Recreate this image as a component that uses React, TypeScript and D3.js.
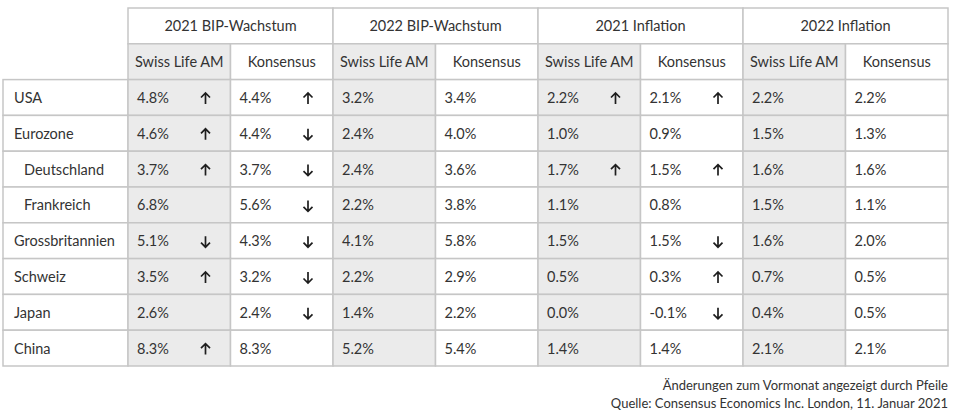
import React from "react";
import { scaleBand } from "d3";

// Zeilen
const countries = ["USA", "Eurozone", "Deutschland", "Frankreich", "Grossbritannien", "Schweiz", "Japan", "China"];
const subRegions = ["Deutschland", "Frankreich"];

// Spaltenköpfe
const groups = ["2021 BIP-Wachstum", "2022 BIP-Wachstum", "2021 Inflation", "2022 Inflation"];
const subHeads = ["Swiss Life AM", "Konsensus"];

// Werte je Spalte (Reihenfolge wie countries)
const bip21Swiss = ["4.8%", "4.6%", "3.7%", "6.8%", "5.1%", "3.5%", "2.6%", "8.3%"];
const bip21Kons = ["4.4%", "4.4%", "3.7%", "5.6%", "4.3%", "3.2%", "2.4%", "8.3%"];
const bip22Swiss = ["3.2%", "2.4%", "2.4%", "2.2%", "4.1%", "2.2%", "1.4%", "5.2%"];
const bip22Kons = ["3.4%", "4.0%", "3.6%", "3.8%", "5.8%", "2.9%", "2.2%", "5.4%"];
const inf21Swiss = ["2.2%", "1.0%", "1.7%", "1.1%", "1.5%", "0.5%", "0.0%", "1.4%"];
const inf21Kons = ["2.1%", "0.9%", "1.5%", "0.8%", "1.5%", "0.3%", "-0.1%", "1.4%"];
const inf22Swiss = ["2.2%", "1.5%", "1.6%", "1.5%", "1.6%", "0.7%", "0.4%", "2.1%"];
const inf22Kons = ["2.2%", "1.3%", "1.6%", "1.1%", "2.0%", "0.5%", "0.5%", "2.1%"];

// Pfeile: 1 = hoch, -1 = runter, 0 = keiner
const bip21SwissArrow = [1, 1, 1, 0, -1, 1, 0, 1];
const bip21KonsArrow = [1, -1, -1, -1, -1, -1, -1, 0];
const inf21SwissArrow = [1, 0, 1, 0, 0, 0, 0, 0];
const inf21KonsArrow = [1, 0, 1, 0, -1, 1, -1, 0];
const noArrow = [0, 0, 0, 0, 0, 0, 0, 0];

const notes = [
  "Änderungen zum Vormonat angezeigt durch Pfeile",
  "Quelle: Consensus Economics Inc. London, 11. Januar 2021",
];

const columns = [
  { values: bip21Swiss, arrows: bip21SwissArrow },
  { values: bip21Kons, arrows: bip21KonsArrow },
  { values: bip22Swiss, arrows: noArrow },
  { values: bip22Kons, arrows: noArrow },
  { values: inf21Swiss, arrows: inf21SwissArrow },
  { values: inf21Kons, arrows: inf21KonsArrow },
  { values: inf22Swiss, arrows: noArrow },
  { values: inf22Kons, arrows: noArrow },
];

const W = 960;
const H = 416;
const left = 3;
const firstColRight = 128;
const right = 948;
const top = 8;
const bottom = 366;

const FONT = "Lato, 'Noto Sans', sans-serif";
const TEXT = "#333";
const BORDER = "#c6c6c6";
const SHADE = "#ebebeb";

function Arrow({ cx, cy, dir }: { cx: number; cy: number; dir: number }) {
  const h = 5.5;
  const tip = cy - dir * h;
  const back = tip + dir * 4.5;
  return (
    <path
      d={`M${cx},${cy + dir * h}V${tip}M${cx - 4.5},${back}L${cx},${tip}L${cx + 4.5},${back}`}
      fill="none"
      stroke="#1e1e1e"
      strokeWidth={1.7}
      strokeLinejoin="miter"
    />
  );
}

export default function App() {
  const rowKeys = ["h1", "h2", ...countries];
  const y = scaleBand<string>().domain(rowKeys).range([top, bottom]);
  const x = scaleBand<number>()
    .domain(columns.map((_, i) => i))
    .range([firstColRight, right]);
  const rh = y.bandwidth();
  const cw = x.bandwidth();

  return (
    <div style={{ position: "absolute", left: 0, top: 0 }}>
      <svg width={W} height={H} style={{ display: "block", fontFamily: FONT }}>
        <rect width={W} height={H} fill="#fff" />

        {/* Gruppenköpfe */}
        {groups.map((g, gi) => {
          const x0 = x(gi * 2)!;
          return (
            <g key={g}>
              <rect x={x0} y={y("h1")} width={cw * 2} height={rh} fill="#fff" stroke={BORDER} strokeWidth={1.5} />
              <text x={x0 + cw} y={y("h1")! + rh / 2 + 5} textAnchor="middle" fontSize={14.5} fill={TEXT}>
                {g}
              </text>
            </g>
          );
        })}

        {/* Unterköpfe */}
        {columns.map((_, ci) => (
          <g key={"sh" + ci}>
            <rect x={x(ci)} y={y("h2")} width={cw} height={rh} fill={ci % 2 === 0 ? SHADE : "#fff"} stroke={BORDER} strokeWidth={1.5} />
            <text x={x(ci)! + cw / 2} y={y("h2")! + rh / 2 + 5} textAnchor="middle" fontSize={14.5} fill={TEXT}>
              {subHeads[ci % 2]}
            </text>
          </g>
        ))}

        {/* Länderzeilen */}
        {countries.map((c, ri) => {
          const y0 = y(c)!;
          const indent = subRegions.includes(c) ? 21 : 11;
          return (
            <g key={c}>
              <rect x={left} y={y0} width={firstColRight - left} height={rh} fill="#fff" stroke={BORDER} strokeWidth={1.5} />
              <text x={left + indent} y={y0 + rh / 2 + 5.5} fontSize={14.5} fill={TEXT}>
                {c}
              </text>
              {columns.map((col, ci) => {
                const x0 = x(ci)!;
                return (
                  <g key={ci}>
                    <rect x={x0} y={y0} width={cw} height={rh} fill={ci % 2 === 0 ? SHADE : "#fff"} stroke={BORDER} strokeWidth={1.5} />
                    <text x={x0 + 9} y={y0 + rh / 2 + 5.5} fontSize={14.5} fill={TEXT}>
                      {col.values[ri]}
                    </text>
                    {col.arrows[ri] !== 0 && <Arrow cx={x0 + cw - 25} cy={y0 + rh / 2 + 1} dir={col.arrows[ri]} />}
                  </g>
                );
              })}
            </g>
          );
        })}

        {/* Fussnoten */}
        {notes.map((n, i) => (
          <text key={n} x={right} y={390 + i * 18} textAnchor="end" fontSize={13} fill={TEXT}>
            {n}
          </text>
        ))}
      </svg>
    </div>
  );
}
